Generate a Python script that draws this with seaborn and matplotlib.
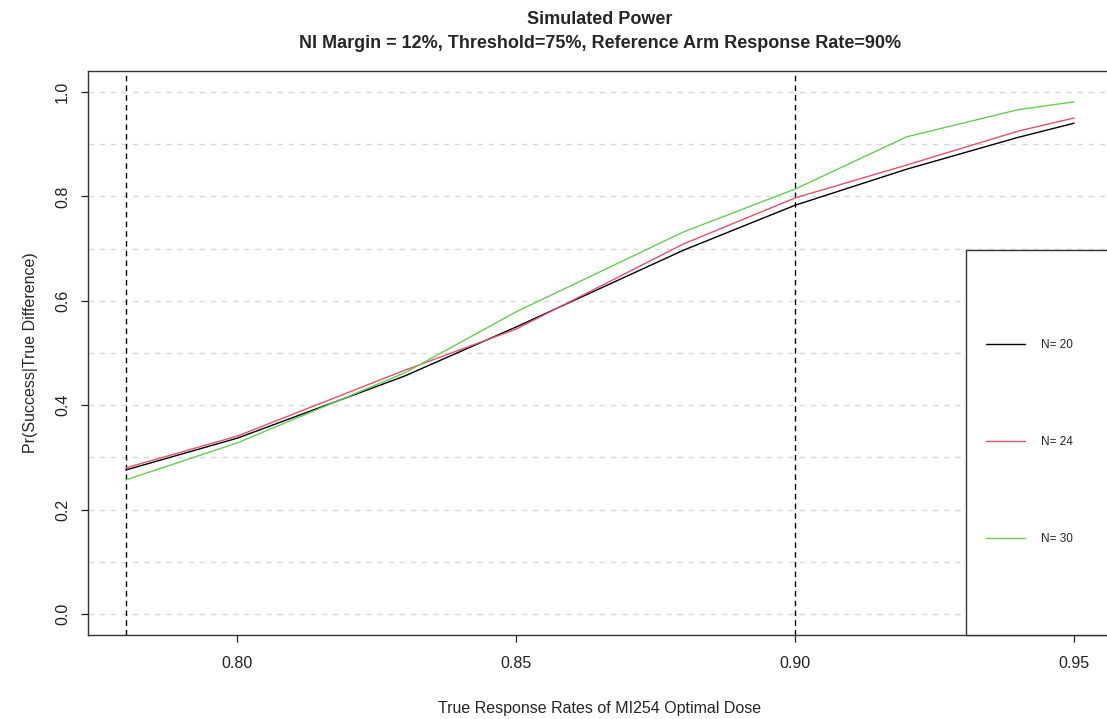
import pandas as pd
import seaborn as sns
import matplotlib.pyplot as plt
from matplotlib.patches import Rectangle

# Values
rates = [0.78, 0.80, 0.83, 0.85, 0.88, 0.90, 0.92, 0.94, 0.95]
power_n20 = [0.276, 0.337, 0.456, 0.550, 0.697, 0.783, 0.852, 0.913, 0.940]
power_n24 = [0.280, 0.341, 0.467, 0.546, 0.709, 0.797, 0.860, 0.925, 0.950]
power_n30 = [0.257, 0.328, 0.462, 0.579, 0.732, 0.814, 0.914, 0.966, 0.981]
labels = ['N= 20', 'N= 24', 'N= 30']
colors = ['#000000', '#DF536B', '#61D04F']
ref_lines = [0.78, 0.90]

# Long format table for seaborn
df = pd.concat([
    pd.DataFrame({'rate': rates, 'power': vals, 'N': lab})
    for vals, lab in zip([power_n20, power_n24, power_n30], labels)
])

sns.set_style('ticks')
plt.rcParams['font.family'] = ['Liberation Sans', 'DejaVu Sans']

fig = plt.figure(figsize=(11.07, 7.19), dpi=100)
W, H = 1107, 719
ax = fig.add_axes([88 / W, (H - 635) / H, 1024 / W, 564 / H])

# dashed horizontal grid every 0.1
for g in [i / 10 for i in range(11)]:
    ax.axhline(g, color='#d9d9d9', lw=1, ls=(0, (4, 4)), zorder=0)

sns.lineplot(data=df, x='rate', y='power', hue='N', palette=colors,
             lw=1, ax=ax, legend=False, zorder=3)

for v in ref_lines:
    ax.axvline(v, color='black', lw=1, ls=(0, (4, 3)), zorder=2)

ax.set_xlim(0.7732, 0.9568)
ax.set_ylim(-0.04, 1.04)
ax.set_xticks([0.80, 0.85, 0.90, 0.95])
ax.set_xticklabels(['0.80', '0.85', '0.90', '0.95'])
ax.set_yticks([0.0, 0.2, 0.4, 0.6, 0.8, 1.0])
ax.set_yticklabels(['0.0', '0.2', '0.4', '0.6', '0.8', '1.0'],
                   rotation=90, va='center')
ax.tick_params(axis='both', length=5, width=0.9, labelsize=11.5,
               colors='#222222', direction='out')
ax.tick_params(axis='x', pad=10)
ax.tick_params(axis='y', pad=8)
for s in ax.spines.values():
    s.set_visible(True)
    s.set_color('#333333')
    s.set_linewidth(1)

ax.set_xlabel('True Response Rates of MI254 Optimal Dose', fontsize=11.5,
              labelpad=22)
ax.set_ylabel('Pr(Success|True Difference)', fontsize=11.5, labelpad=12)

fig.text(600 / W, 1 - 19 / H, 'Simulated Power', ha='center', va='center',
         fontsize=13, fontweight='bold')
fig.text(600 / W, 1 - 43 / H,
         'NI Margin = 12%, Threshold=75%, Reference Arm Response Rate=90%',
         ha='center', va='center', fontsize=13, fontweight='bold')

# legend box like R's legend()
ax.add_patch(Rectangle(((966 - 88) / 1024, 0), 0.3, (635 - 250) / 564,
                       transform=ax.transAxes, fill=True, facecolor='white',
                       edgecolor='#333333', lw=1, zorder=5, clip_on=False))
handles = [plt.Line2D([], [], color=c, lw=1) for c in colors]
leg = ax.legend(handles, labels, loc='center left',
                bbox_to_anchor=((980 - 88) / 1024, (635 - 442) / 564),
                frameon=False, fontsize=8.5, handlelength=3.3,
                handletextpad=1.4, labelspacing=7.2, borderpad=0)
leg.set_zorder(6)

fig.savefig('out.png', dpi=100)
